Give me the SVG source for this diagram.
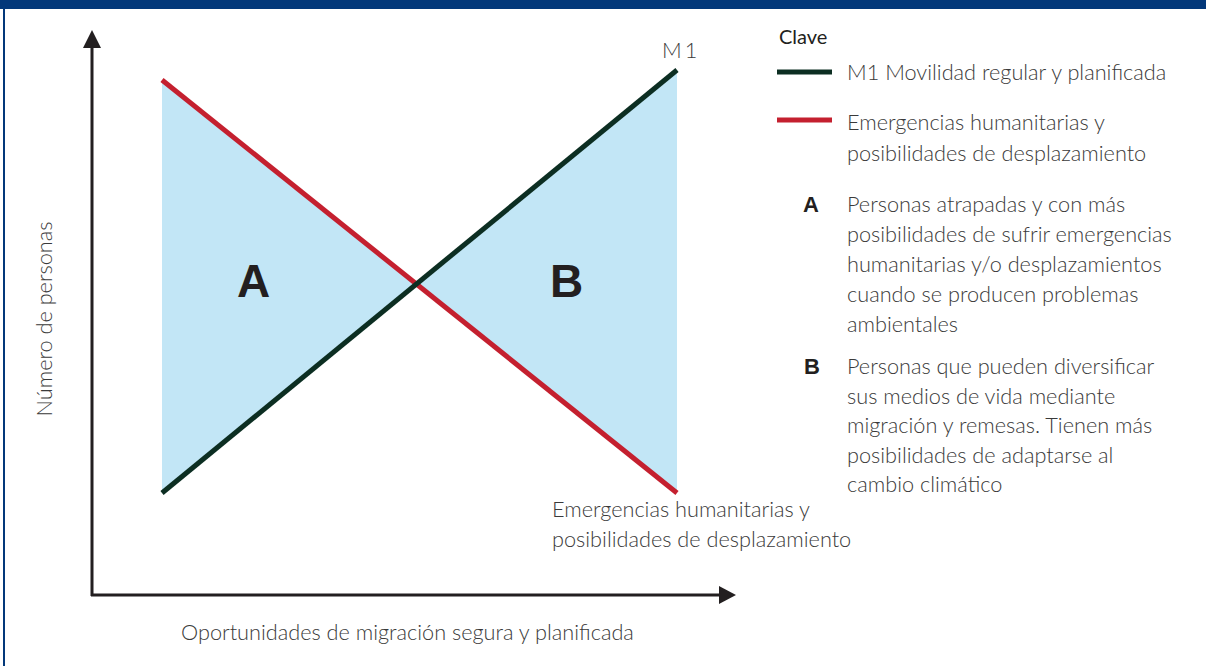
<svg xmlns="http://www.w3.org/2000/svg" width="1206" height="666" viewBox="0 0 1206 666">
<defs>
<style>
.t{font-family:Lato,"Open Sans",sans-serif;font-weight:300;fill:#3a3a3a;font-size:21.7px}
.b{font-family:"Liberation Sans",Arial,sans-serif;font-weight:900;fill:#231f20}
.red{stroke:#c4202f;stroke-width:5;fill:none}
.grn{stroke:#0c2e22;stroke-width:5;fill:none}
.ax{stroke:#231f20;stroke-width:3;fill:none}
</style>
</defs>
<rect x="0" y="0" width="1206" height="666" fill="#ffffff"/>
<rect x="0" y="0" width="1206" height="9" fill="#03387a"/>
<rect x="3" y="0" width="2" height="666" fill="#03387a"/>
<g id="areas">
<polygon points="162,80 162,493 416.4,284" fill="#c2e6f6"/>
<polygon points="677,70 677,493 416.4,284" fill="#c2e6f6"/>
</g>
<g id="connectors">
<line class="ax" x1="92" y1="596" x2="92" y2="44"/>
<polygon points="92,30 83,48 101,48" fill="#231f20"/>
<line class="ax" x1="91" y1="595" x2="722" y2="595"/>
<polygon points="736,595 719,586 719,604" fill="#231f20"/>
<line class="red" x1="162" y1="80" x2="677" y2="493"/>
<line class="grn" x1="162" y1="493" x2="677" y2="70"/>
</g>
<g id="labelA"><text class="b" x="237" y="297" font-size="46">A</text></g>
<g id="labelB"><text class="b" x="550" y="297" font-size="46">B</text></g>
<g id="m1"><text class="t" x="662" y="58" letter-spacing="3">M1</text></g>
<g id="yaxis-label"><text class="t" transform="translate(52,319) rotate(-90)" text-anchor="middle" font-size="24">Número de personas</text></g>
<g id="xaxis-label"><text class="t" x="181" y="640" font-size="22.4">Oportunidades de migración segura y planificada</text></g>
<g id="red-label">
<text class="t" x="552" y="517" font-size="22.3">Emergencias humanitarias y</text>
<text class="t" x="552" y="547" font-size="22.3">posibilidades de desplazamiento</text>
</g>
<g id="legend">
<text x="779" y="44" font-family="Lato,sans-serif" font-weight="400" font-size="20" fill="#231f20">Clave</text>
<line class="grn" x1="777" y1="72" x2="832" y2="72"/>
<text class="t" x="847" y="80">M1 Movilidad regular y planificada</text>
<line class="red" x1="777" y1="120" x2="832" y2="120"/>
<text class="t" x="847" y="130">Emergencias humanitarias y</text>
<text class="t" x="847" y="161">posibilidades de desplazamiento</text>
<text class="b" x="803" y="212" font-size="22">A</text>
<text class="t" x="847" y="212">Personas atrapadas y con más</text>
<text class="t" x="847" y="242">posibilidades de sufrir emergencias</text>
<text class="t" x="847" y="272">humanitarias y/o desplazamientos</text>
<text class="t" x="847" y="302">cuando se producen problemas</text>
<text class="t" x="847" y="332">ambientales</text>
<text class="b" x="804" y="374" font-size="22">B</text>
<text class="t" x="847" y="374">Personas que pueden diversificar</text>
<text class="t" x="847" y="404">sus medios de vida mediante</text>
<text class="t" x="847" y="433">migración y remesas. Tienen más</text>
<text class="t" x="847" y="463">posibilidades de adaptarse al</text>
<text class="t" x="847" y="492">cambio climático</text>
</g>
</svg>
